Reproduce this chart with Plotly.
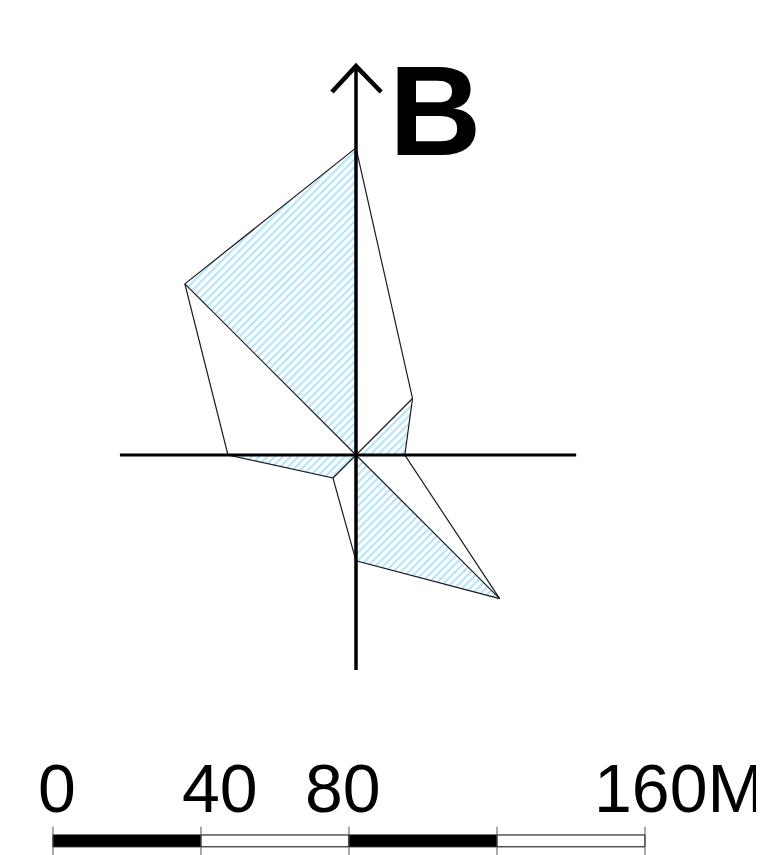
import numpy as np
import plotly.graph_objects as go

# wind-rose style star: value per direction (M)
directions = ["N", "NE", "E", "SE", "S", "SW", "W", "NW"]
angles = [0, 45, 90, 135, 180, 225, 270, 315]
values = [83.0, 21.6, 13.2, 54.9, 28.6, 8.8, 34.6, 65.4]

# hatched sectors (pairs of directions)
hatched = [("NW", "N"), ("NE", "E"), ("SE", "S"), ("SW", "W")]

# scale bar
scale_ticks = [0, 40, 80, 120, 160]
scale_labels = ["0", "40", "80", "", "160M"]
label_x = [1.2, 45.1, 78.4, None, 169.1]
scale_origin = -81.9

rad = np.radians(angles)
xs = np.array(values) * np.sin(rad)
ys = np.array(values) * np.cos(rad)
pt = {d: (x, y) for d, x, y in zip(directions, xs, ys)}

fig = go.Figure()

for a, b in hatched:
    fig.add_trace(go.Scatter(
        x=[0, pt[a][0], pt[b][0], 0], y=[0, pt[a][1], pt[b][1], 0],
        mode="lines", fill="toself", line=dict(width=0),
        fillcolor="rgba(0,0,0,0)",
        fillpattern=dict(shape="/", fgcolor="#5ec8f5", bgcolor="white", size=5.5, solidity=0.38),
        hoverinfo="skip", showlegend=False))

# outline of the star
fig.add_trace(go.Scatter(
    x=list(xs) + [xs[0]], y=list(ys) + [ys[0]],
    mode="lines", line=dict(color="#1a1a1a", width=1.2),
    hoverinfo="skip", showlegend=False))

# diagonal spokes
for d in ["NE", "SE", "SW", "NW"]:
    fig.add_trace(go.Scatter(
        x=[0, pt[d][0]], y=[0, pt[d][1]],
        mode="lines", line=dict(color="#1a1a1a", width=1.2),
        hoverinfo="skip", showlegend=False))

# cross axes with north arrow
fig.add_shape(type="line", x0=-63.8, x1=59.5, y0=0, y1=0, line=dict(color="black", width=3.2))
fig.add_shape(type="line", x0=0, x1=0, y0=-58.1, y1=105.0, line=dict(color="black", width=3.5))
fig.add_trace(go.Scatter(
    x=[-6.5, 0, 6.8], y=[98.1, 105.1, 98.1], mode="lines",
    line=dict(color="black", width=4.5), hoverinfo="skip", showlegend=False))

fig.add_annotation(x=21.3, y=93.0, text="<b>B</b>", showarrow=False,
                   font=dict(family="Liberation Sans", size=128, color="black"),
                   xanchor="center", yanchor="middle")

# scale bar
bar_top, bar_bot = -102.7, -105.9
for i in range(len(scale_ticks) - 1):
    x0 = scale_origin + scale_ticks[i]
    x1 = scale_origin + scale_ticks[i + 1]
    fig.add_shape(type="rect", x0=x0, x1=x1, y0=bar_bot, y1=bar_top,
                  fillcolor="black" if i % 2 == 0 else "white",
                  line=dict(color="black", width=1))
for t, lab, lx in zip(scale_ticks, scale_labels, label_x):
    fig.add_shape(type="line", x0=scale_origin + t, x1=scale_origin + t,
                  y0=-100.5, y1=-108.2, line=dict(color="#555555", width=1))
    if lab:
        fig.add_annotation(x=scale_origin + lx, y=-90.05, text=lab, showarrow=False,
                           xanchor="center", yanchor="middle",
                           font=dict(family="Liberation Sans", size=68, color="black"))

# page body has an 8px margin, so the figure is 756x847 and starts at (8, 8)
fig.update_layout(
    width=756, height=847, margin=dict(l=0, r=0, t=0, b=0),
    paper_bgcolor="white", plot_bgcolor="white",
    xaxis=dict(range=[-94.05, 110.27], visible=False, fixedrange=True),
    yaxis=dict(range=[-108.11, 120.81], visible=False, fixedrange=True),
)

fig.write_html("out.html")
